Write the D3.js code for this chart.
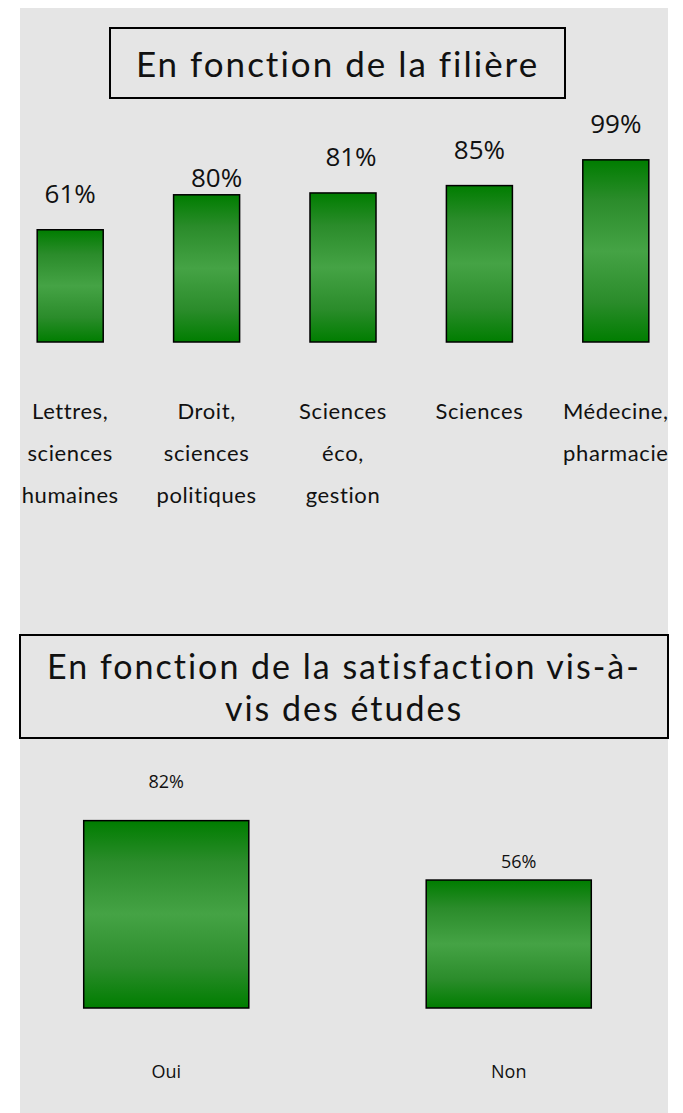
<!DOCTYPE html>
<html><head><meta charset="utf-8">
<script src="https://cdn.jsdelivr.net/npm/d3@7"></script>
<style>
html,body{margin:0;padding:0;background:#fff;}
svg{display:block;}
</style></head>
<body>
<svg id="chart" width="683" height="1113"></svg>
<script>
// ---- Data ----
const title1 = "En fonction de la filière";
const categories1 = [
  ["Lettres,", "sciences", "humaines"],
  ["Droit,", "sciences", "politiques"],
  ["Sciences", "éco,", "gestion"],
  ["Sciences"],
  ["Médecine,", "pharmacie"]
];
const values1 = [61, 80, 81, 85, 99];

const title2Lines = ["En fonction de la satisfaction vis-à-", "vis des études"];
const categories2 = ["Oui", "Non"];
const values2 = [82, 56];

// label nudges (layout only)
const nudge1 = [[0,0],[10,19],[8,0],[0,0],[0,0]];
const nudge2 = [[0,0],[10,21]];

const svg = d3.select("#chart");
const titleFont = "Lato, 'Noto Sans', sans-serif";
const sans = "'Open Sans','Noto Sans',sans-serif";

// gradient
const defs = svg.append("defs");
const g = defs.append("linearGradient").attr("id","barGrad").attr("x1",0).attr("y1",0).attr("x2",0).attr("y2",1);
g.append("stop").attr("offset","0%").attr("stop-color","#007d00");
g.append("stop").attr("offset","22%").attr("stop-color","#2b8c2b");
g.append("stop").attr("offset","50%").attr("stop-color","#45a345");
g.append("stop").attr("offset","78%").attr("stop-color","#2b8c2b");
g.append("stop").attr("offset","100%").attr("stop-color","#007d00");

// background panel
svg.append("rect").attr("x",20).attr("y",8).attr("width",648).attr("height",1105).attr("fill","#e5e5e5");

// ---- Chart 1 ----
svg.append("rect").attr("x",110).attr("y",28).attr("width",455).attr("height",70)
  .attr("fill","#e5e5e5").attr("stroke","#000").attr("stroke-width",2);
svg.append("text").attr("x",337.5).attr("y",63).attr("text-anchor","middle").attr("dominant-baseline","central")
  .attr("font-family",titleFont).attr("font-size",35).attr("letter-spacing","2px").attr("fill","#111").text(title1);

const idx1 = d3.range(values1.length);
const x1 = d3.scaleBand().domain(idx1).range([2,684]).paddingInner(0.516).paddingOuter(0.258);
const y1 = d3.scaleLinear().domain([0,100]).range([342,158]);

const c1 = svg.append("g");
c1.selectAll("rect.bar").data(idx1).join("rect").attr("class","bar")
  .attr("x", i => x1(i)).attr("width", x1.bandwidth())
  .attr("y", i => y1(values1[i])).attr("height", i => y1(0) - y1(values1[i]))
  .attr("fill","url(#barGrad)").attr("stroke","#000").attr("stroke-width",1.5);

c1.selectAll("text.val").data(idx1).join("text").attr("class","val")
  .attr("x", i => x1(i) + x1.bandwidth()/2 + nudge1[i][0])
  .attr("y", i => y1(values1[i]) - 37 + nudge1[i][1])
  .attr("text-anchor","middle").attr("dominant-baseline","central")
  .attr("font-family",sans).attr("font-size",26).attr("fill","#111")
  .text(i => values1[i] + "%");

idx1.forEach(i => {
  const t = c1.append("text").attr("text-anchor","middle")
    .attr("font-family",titleFont).attr("font-size",22).attr("letter-spacing","0.6px").attr("fill","#111");
  categories1[i].forEach((line, k) => {
    t.append("tspan").attr("x", x1(i) + x1.bandwidth()/2).attr("y", 419 + k*42).text(line);
  });
});

// ---- Chart 2 ----
svg.append("rect").attr("x",20).attr("y",635).attr("width",648).attr("height",103)
  .attr("fill","#e5e5e5").attr("stroke","#000").attr("stroke-width",2);
title2Lines.forEach((line,k) => {
  svg.append("text").attr("x",344).attr("y",665 + k*42).attr("text-anchor","middle").attr("dominant-baseline","central")
    .attr("font-family",titleFont).attr("font-size",34).attr("letter-spacing","2px").attr("fill","#111").text(line);
});

const idx2 = d3.range(values2.length);
const x2 = d3.scaleBand().domain(idx2).range([-5,680]).paddingInner(0.518).paddingOuter(0.259);
const y2 = d3.scaleLinear().domain([0,100]).range([1008,779.5]);

const c2 = svg.append("g");
c2.selectAll("rect.bar").data(idx2).join("rect").attr("class","bar")
  .attr("x", i => x2(i)).attr("width", x2.bandwidth())
  .attr("y", i => y2(values2[i])).attr("height", i => y2(0) - y2(values2[i]))
  .attr("fill","url(#barGrad)").attr("stroke","#000").attr("stroke-width",1.5);

c2.selectAll("text.val").data(idx2).join("text").attr("class","val")
  .attr("x", i => x2(i) + x2.bandwidth()/2 + nudge2[i][0])
  .attr("y", i => y2(values2[i]) - 40 + nudge2[i][1])
  .attr("text-anchor","middle").attr("dominant-baseline","central")
  .attr("font-family",sans).attr("font-size",18).attr("fill","#111")
  .text(i => values2[i] + "%");

c2.selectAll("text.cat").data(idx2).join("text").attr("class","cat")
  .attr("x", i => x2(i) + x2.bandwidth()/2)
  .attr("y", 1071)
  .attr("text-anchor","middle").attr("dominant-baseline","central")
  .attr("font-family",sans).attr("font-size",18).attr("fill","#111")
  .text(i => categories2[i]);
</script>
</body></html>
